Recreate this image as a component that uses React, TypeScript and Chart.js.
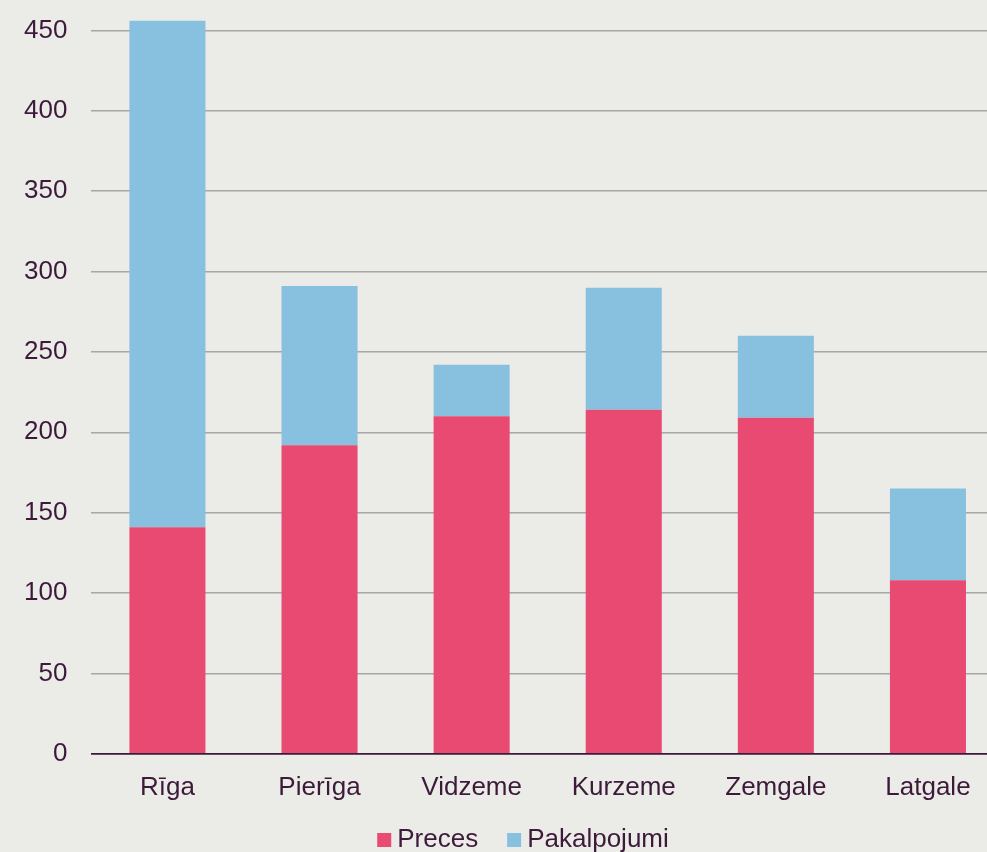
import React, { useEffect, useRef } from "react";
import { Chart, registerables } from "chart.js";

Chart.register(...registerables);

const categories = ["Rīga", "Pierīga", "Vidzeme", "Kurzeme", "Zemgale", "Latgale"];
const preces = [141, 192, 210, 214, 209, 108];
const pakalpojumi = [315, 99, 32, 76, 51, 57];
const seriesNames = ["Preces", "Pakalpojumi"];
const seriesColors = ["#e94a72", "#88c1df"];
const yTicks = [0, 50, 100, 150, 200, 250, 300, 350, 400, 450];

const BG = "#ebebe7";
const TEXT = "#3d1a3a";
const GRID = "#aaa6a8";
const FONT_FAMILY = "Liberation Sans, Arial, sans-serif";
const CANVAS_W = 1004;
const SHIFT = 22;
const CANVAS_H = 852 + SHIFT;

const bgPlugin = {
  id: "bgFill",
  beforeDraw(chart: any) {
    const ctx = chart.ctx;
    ctx.save();
    ctx.fillStyle = BG;
    ctx.fillRect(0, 0, chart.width, chart.height);
    ctx.restore();
  },
};

const legendPlugin = {
  id: "customLegend",
  afterDraw(chart: any) {
    const ctx = chart.ctx;
    ctx.save();
    ctx.font = `26px ${FONT_FAMILY}`;
    ctx.textBaseline = "alphabetic";
    const box = 14;
    const gap = 6;
    const itemGap = 29;
    const widths = seriesNames.map((n) => ctx.measureText(n).width);
    const total = widths.reduce((a, w) => a + box + gap + w, 0) + itemGap * (seriesNames.length - 1);
    let x = chart.width / 2 + 21 - total / 2;
    const baseline = chart.height - 5;
    seriesNames.forEach((n, i) => {
      ctx.fillStyle = seriesColors[i];
      ctx.fillRect(x, baseline - box, box, box);
      x += box + gap;
      ctx.fillStyle = TEXT;
      ctx.fillText(n, x, baseline);
      x += widths[i] + itemGap;
    });
    ctx.restore();
  },
};

export default function App() {
  const ref = useRef<HTMLCanvasElement | null>(null);
  useEffect(() => {
    document.body.style.margin = "0";
    document.body.style.background = BG;
    if (!ref.current) return;
    const font = { family: FONT_FAMILY, size: 26 };
    const chart = new Chart(ref.current, {
      type: "bar",
      data: {
        labels: categories,
        datasets: [
          { label: seriesNames[0], data: preces, backgroundColor: seriesColors[0], categoryPercentage: 1, barPercentage: 0.5 },
          { label: seriesNames[1], data: pakalpojumi, backgroundColor: seriesColors[1], categoryPercentage: 1, barPercentage: 0.5 },
        ],
      },
      options: {
        animation: false,
        responsive: false,
        maintainAspectRatio: false,
        layout: { padding: { top: 0, right: 0, bottom: 31, left: 0 } },
        plugins: {
          legend: { display: false },
          tooltip: { enabled: false },
        },
        scales: {
          x: {
            stacked: true,
            grid: { display: false, drawTicks: false },
            border: { display: true, color: TEXT, width: 1.5 },
            ticks: { color: TEXT, font, padding: 18 },
          },
          y: {
            stacked: true,
            min: 0,
            max: 458,
            afterBuildTicks: (scale: any) => {
              scale.ticks = yTicks.map((v) => ({ value: v }));
            },
            grid: {
              color: (c: any) => (c.tick && c.tick.value === 0 ? TEXT : GRID),
              lineWidth: 1.5,
              drawTicks: false,
            },
            border: { display: false },
            ticks: { color: TEXT, font, padding: 24 },
          },
        },
      },
      plugins: [bgPlugin, legendPlugin],
    });
    return () => chart.destroy();
  }, []);
  return (
    <div style={{ width: 987, height: 852, overflow: "hidden", background: BG }}>
      <canvas
        ref={ref}
        width={CANVAS_W}
        height={CANVAS_H}
        style={{ display: "block", marginTop: -SHIFT }}
      />
    </div>
  );
}
